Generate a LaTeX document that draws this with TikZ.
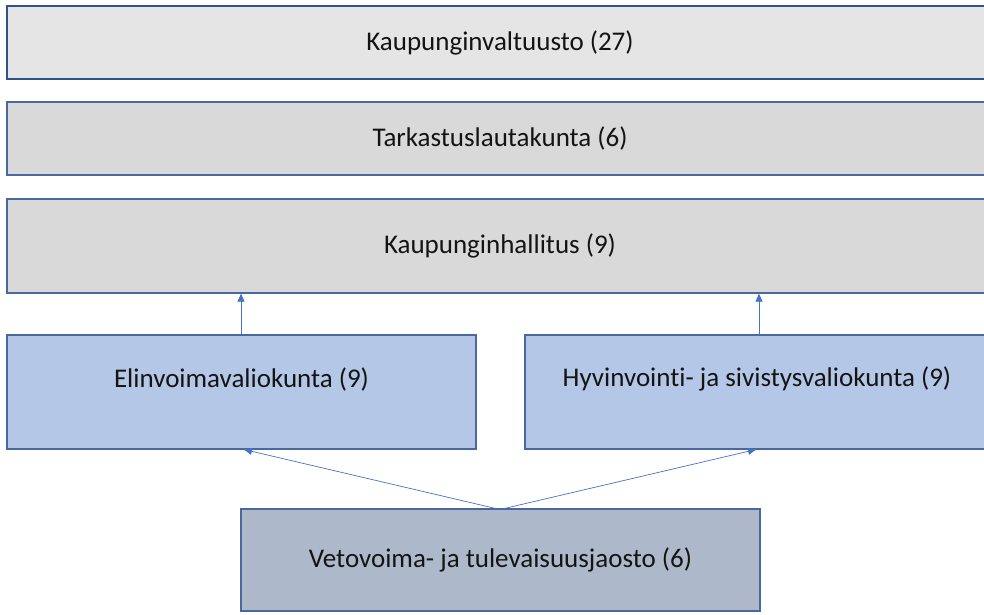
\documentclass[tikz,border=0pt]{standalone}
\usepackage{fontspec}
\setmainfont[RawFeature=-liga]{Carlito}
\usetikzlibrary{arrows.meta}
\definecolor{bordA}{HTML}{2F528F}
\definecolor{bordB}{HTML}{4A67A0}
\definecolor{fillA}{HTML}{E5E5E5}
\definecolor{fillB}{HTML}{D9D9D9}
\definecolor{fillC}{HTML}{B4C7E7}
\definecolor{fillD}{HTML}{ADB9CA}
\definecolor{arr}{HTML}{4472C4}
\definecolor{txt}{HTML}{141414}
\begin{document}
\begin{tikzpicture}[x=1pt,y=-1pt,
  box/.style={draw=bordB,line width=1.3pt,rectangle,inner sep=0pt,
    font=\fontsize{27}{31}\selectfont,text=txt},
  conn/.style={draw=arr,line width=0.7pt,-{Triangle[length=8pt,width=7pt]}}]
\useasboundingbox (0,0) rectangle (984,614);
\clip (0,0) rectangle (984,614);
\node[box,draw=bordA,line width=1.6pt,fill=fillA,minimum width=986pt,minimum height=73pt] (valt) at (500,42.5) {Kaupunginvaltuusto (27)};
\node[box,fill=fillB,minimum width=986pt,minimum height=73pt] (tark) at (500,138.5) {Tarkastuslautakunta (6)};
\node[box,fill=fillB,minimum width=986pt,minimum height=94pt] (hall) at (500,246) {Kaupunginhallitus (9)};
\node[box,fill=fillC,minimum width=469pt,minimum height=114pt,
  label={[font=\fontsize{27}{31}\selectfont,text=txt,yshift=13pt]center:Elinvoimavaliokunta (9)}] (elin) at (241.5,392) {};
\node[box,fill=fillC,minimum width=464pt,minimum height=114pt,
  label={[font=\fontsize{27}{31}\selectfont,text=txt,yshift=13pt]center:Hyvinvointi- ja sivistysvaliokunta (9)}] (hyv) at (757,392) {};
\node[box,fill=fillD,minimum width=519pt,minimum height=102pt] (veto) at (500.5,560) {Vetovoima- ja tulevaisuusjaosto (6)};
\coordinate (vtop) at (500,509.5);
\draw[conn] (elin.north -| 241,0) -- (hall.south -| 241,0);
\draw[conn] (hyv.north -| 759,0) -- (hall.south -| 759,0);
\draw[conn] (vtop) -- (244,449.5);
\draw[conn] (vtop) -- (756,449.5);
\end{tikzpicture}
\end{document}
